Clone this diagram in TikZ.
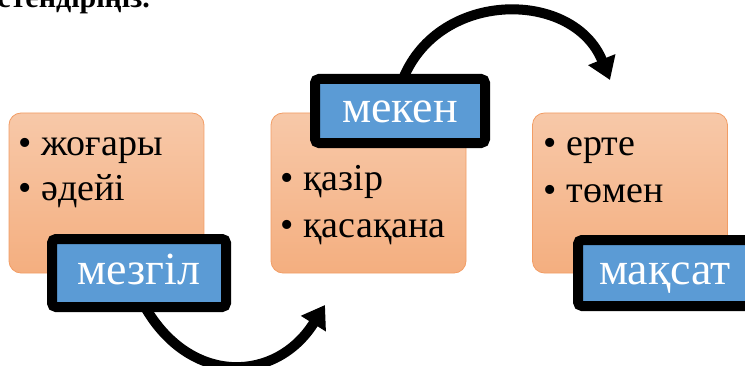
\documentclass[tikz,border=0pt]{standalone}
\usepackage{fontspec}
\setmainfont{Liberation Serif}
\usetikzlibrary{arrows.meta}
\definecolor{accentorange}{HTML}{ED7D31}
\definecolor{accentblue}{HTML}{5B9BD5}

\begin{document}
\begin{tikzpicture}[x=1pt, y=1pt,
    orangebox/.style={draw=accentorange!75, line width=0.8pt, rounded corners=12pt,
      top color=accentorange!42, bottom color=accentorange!62,
      minimum width=195pt, minimum height=160pt, inner sep=0pt},
    labelbox/.style={draw=black, line width=10pt, rounded corners=4pt, fill=accentblue,
      text=white, font=\fontsize{46}{50}\selectfont, text height=22pt, text depth=0pt, inner sep=0pt},
    itemtext/.style={anchor=base west, inner sep=0pt, font=\fontsize{38}{44}\selectfont},
    bendarrow/.style={line width=10pt, -{Triangle[width=28pt,length=22pt]}}]
        \useasboundingbox (0,0) rectangle (745,365);
        \clip (0,0) rectangle (745,365);
        \node[anchor=base east, inner sep=0pt, font=\fontsize{30}{36}\selectfont\bfseries] (title) at (150,357) {стендіріңіз.};
        % orange boxes
        \node[orangebox] (b1) at (106.5,172) {};
        \node[orangebox] (b2) at (368.5,172) {};
        \node[orangebox] (b3) at (630,172) {};
        % bullet items
        \node[itemtext] (i1) at (18,210) {•\hspace{10pt}жоғары};
        \node[itemtext] (i2) at (18,165) {•\hspace{10pt}әдейі};
        \node[itemtext] (i3) at (280,175) {•\hspace{10pt}қазір};
        \node[itemtext] (i4) at (280,128) {•\hspace{10pt}қасақана};
        \node[itemtext] (i5) at (543,210) {•\hspace{10pt}ерте};
        \node[itemtext] (i6) at (543,163) {•\hspace{10pt}төмен};
        % arrows
        \coordinate (tip1) at (325,60);
        \coordinate (tip2) at (610,285);
        \draw[bendarrow] (145,58) to[out=-60, in=-122, looseness=1.3] (tip1);
        \draw[bendarrow] (403,286) to[out=68, in=112, looseness=1.2] (tip2);
        % labels
        \node[labelbox, minimum width=174pt, minimum height=68pt] (mezgil) at (139,92) {мезгіл};
        \node[labelbox, minimum width=170pt, minimum height=64pt] (meken) at (400,254) {мекен};
        \node[labelbox, minimum width=174pt, minimum height=66pt] (maqsat) at (665,92) {мақсат};
    \end{tikzpicture}
\end{document}
